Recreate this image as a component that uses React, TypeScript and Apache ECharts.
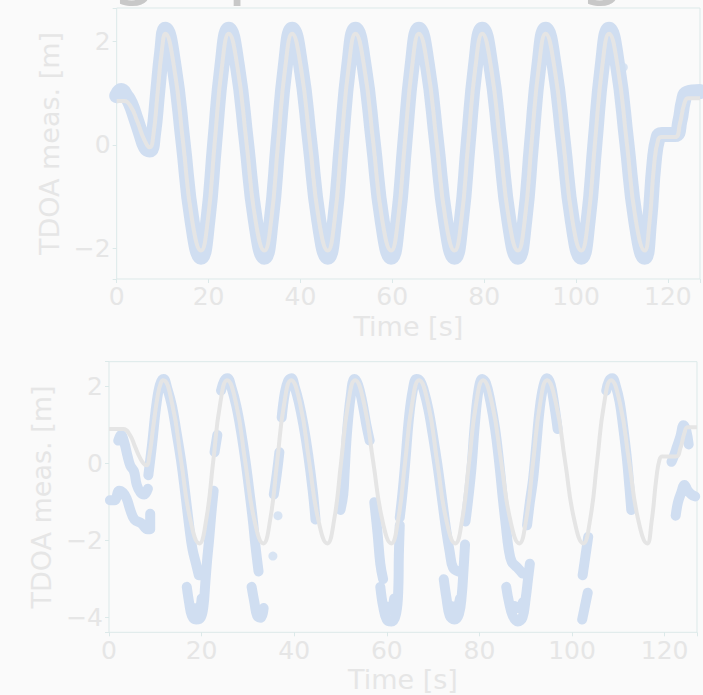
import React, { useEffect, useRef } from "react";
import * as echarts from "echarts";

// ---------- data ----------
const titleText = "Range processing";
const xAxisName = "Time [s]";
const yAxisName = "TDOA meas. [m]";

// top panel: ground-truth TDOA (grey) [t, m]
const refTop: [number, number][] = [
  [0, 0.85], [1.5, 0.85], [3.0, 0.75], [4.5, 0.45], [6.0, 0.1], [7.2, -0.05], [8.0, 0.2], [8.9, 1.0], [9.8, 1.8],
  [10.6, 2.15], [12.5, 1.5], [14.45, 0.05], [16.4, -1.45], [18.35, -2.05], [19.85, -1.45], [21.35, 0.05], [22.9, 1.5],
  [24.4, 2.15], [26.3, 1.5], [28.25, 0.05], [30.2, -1.45], [32.15, -2.05], [33.65, -1.45], [35.15, 0.05], [36.7, 1.5],
  [38.2, 2.15], [40.1, 1.5], [42.05, 0.05], [44.0, -1.45], [45.95, -2.05], [47.45, -1.45], [48.95, 0.05], [50.5, 1.5],
  [52.0, 2.15], [53.9, 1.5], [55.85, 0.05], [57.8, -1.45], [59.75, -2.05], [61.25, -1.45], [62.75, 0.05], [64.3, 1.5],
  [65.8, 2.15], [67.7, 1.5], [69.65, 0.05], [71.6, -1.45], [73.55, -2.05], [75.05, -1.45], [76.55, 0.05], [78.1, 1.5],
  [79.6, 2.15], [81.5, 1.5], [83.45, 0.05], [85.4, -1.45], [87.35, -2.05], [88.85, -1.45], [90.35, 0.05], [91.9, 1.5],
  [93.4, 2.15], [95.3, 1.5], [97.25, 0.05], [99.2, -1.45], [101.15, -2.05], [102.65, -1.45], [104.15, 0.05], [105.7, 1.5],
  [107.2, 2.15], [109.1, 1.5], [111.05, 0.05], [113.0, -1.45], [114.95, -2.05],
  [116.0, -1.5], [117.0, -0.4], [117.9, 0.1], [118.7, 0.15], [121.6, 0.15], [122.6, 0.4], [123.6, 0.8], [124.4, 0.9], [127, 0.9],
];

// top panel: measured TDOA (blue band centre) [t, m]
const measTop: [number, number][] = [
  [0, 0.95], [1.0, 1.05], [2.0, 0.95], [3.0, 0.8], [4.2, 0.5], [5.3, 0.2], [6.3, -0.05], [7.2, -0.1], [8.0, 0.2], [8.9, 1.0], [9.8, 1.8],
  [10.6, 2.24], [12.5, 1.52], [14.45, 0.05], [16.4, -1.47], [18.35, -2.18], [19.85, -1.47], [21.35, 0.05], [22.9, 1.52],
  [24.4, 2.24], [26.3, 1.52], [28.25, 0.05], [30.2, -1.47], [32.15, -2.18], [33.65, -1.47], [35.15, 0.05], [36.7, 1.52],
  [38.2, 2.24], [40.1, 1.52], [42.05, 0.05], [44.0, -1.47], [45.95, -2.18], [47.45, -1.47], [48.95, 0.05], [50.5, 1.52],
  [52.0, 2.24], [53.9, 1.52], [55.85, 0.05], [57.8, -1.47], [59.75, -2.18], [61.25, -1.47], [62.75, 0.05], [64.3, 1.52],
  [65.8, 2.24], [67.7, 1.52], [69.65, 0.05], [71.6, -1.47], [73.55, -2.18], [75.05, -1.47], [76.55, 0.05], [78.1, 1.52],
  [79.6, 2.24], [81.5, 1.52], [83.45, 0.05], [85.4, -1.47], [87.35, -2.18], [88.85, -1.47], [90.35, 0.05], [91.9, 1.52],
  [93.4, 2.24], [95.3, 1.52], [97.25, 0.05], [99.2, -1.47], [101.15, -2.18], [102.65, -1.47], [104.15, 0.05], [105.7, 1.52],
  [107.2, 2.24], [109.1, 1.52], [111.05, 0.05], [113.0, -1.47], [114.95, -2.18],
  [116.0, -1.5], [117.0, -0.35], [117.9, 0.15], [118.7, 0.2], [121.6, 0.2], [122.6, 0.45], [123.4, 0.85], [124.2, 1.0], [127, 1.03],
];
const measTopDots: [number, number][] = [[110.3, 1.5]];

// bottom panel: ground-truth TDOA (grey)
const refBot: [number, number][] = [
  [0, 0.9], [3.1, 0.9], [4.5, 0.75], [5.6, 0.45], [6.7, 0.15], [7.5, 0.0], [8.1, -0.04], [8.7, 0.2], [9.6, 1.0], [10.5, 1.75], [11.2, 2.1],
  [11.7, 2.17], [13.65, 1.55], [15.6, 0.05], [17.55, -1.45], [19.5, -2.07], [21.0, -1.45], [22.5, 0.05], [24.0, 1.55],
  [25.52, 2.17], [27.47, 1.55], [29.42, 0.05], [31.37, -1.45], [33.32, -2.07], [34.82, -1.45], [36.32, 0.05], [37.82, 1.55],
  [39.34, 2.17], [41.29, 1.55], [43.24, 0.05], [45.19, -1.45], [47.14, -2.07], [48.64, -1.45], [50.14, 0.05], [51.64, 1.55],
  [53.16, 2.17], [55.11, 1.55], [57.06, 0.05], [59.01, -1.45], [60.96, -2.07], [62.46, -1.45], [63.96, 0.05], [65.46, 1.55],
  [66.98, 2.17], [68.93, 1.55], [70.88, 0.05], [72.83, -1.45], [74.78, -2.07], [76.28, -1.45], [77.78, 0.05], [79.28, 1.55],
  [80.8, 2.17], [82.75, 1.55], [84.7, 0.05], [86.65, -1.45], [88.6, -2.07], [90.1, -1.45], [91.6, 0.05], [93.1, 1.55],
  [94.62, 2.17], [96.57, 1.55], [98.52, 0.05], [100.47, -1.45], [102.42, -2.07], [103.92, -1.45], [105.42, 0.05], [106.92, 1.55],
  [108.44, 2.17], [110.39, 1.55], [112.34, 0.05], [114.29, -1.45], [116.24, -2.07],
  [117.2, -1.5], [118.2, -0.4], [118.9, 0.1], [119.5, 0.19], [122.5, 0.19], [123.4, 0.4], [124.3, 0.8], [125.0, 0.95], [127, 0.95],
];

// bottom panel: measured TDOA, runs of points (gaps between runs)
const measBotRuns: [number, number][][] = [
  [[0.2, -0.95], [1.2, -0.95], [2.2, -0.7], [3.0, -0.75], [3.8, -0.9], [4.6, -1.2], [5.5, -1.45], [7.0, -1.55], [8.3, -1.7], [8.9, -1.7], [8.9, -1.3]],
  [[2.0, 0.6], [2.6, 0.75], [3.3, 0.55], [4.0, 0.2], [4.6, -0.05], [5.4, -0.2], [6.0, -0.55], [6.8, -0.75], [7.6, -0.8], [8.4, -0.65]],
  [[8.5, -0.3], [9.3, 0.5], [10.2, 1.5], [11.0, 2.05], [11.8, 2.2], [12.6, 1.95], [13.6, 1.5], [14.6, 0.8], [15.6, 0.05], [16.5, -0.8], [17.3, -1.6], [18.0, -2.2], [18.8, -2.6], [19.4, -2.9]],
  [[16.8, -3.2], [17.3, -3.6], [17.9, -3.95], [18.8, -4.05], [19.8, -4.0], [20.4, -3.7], [20.8, -3.1], [21.2, -2.5], [21.6, -2.0], [22.1, -1.3], [22.6, -0.7]],
  [[18.4, -3.75], [19.4, -3.8], [20.0, -3.5]],
  [[22.8, 0.3], [23.4, 0.75]],
  [[24.2, 1.9], [24.9, 2.15], [25.6, 2.22], [26.4, 2.0], [27.5, 1.5], [28.5, 0.85], [29.5, 0.05], [30.4, -0.8], [31.1, -1.5], [31.6, -2.1], [32.3, -2.8]],
  [[30.8, -3.2], [31.4, -3.6], [32.0, -3.95], [32.8, -4.0], [33.4, -3.75]],
  [[35.6, -0.8], [36.2, -0.3], [36.8, 0.3]],
  [[37.3, 1.2], [38.0, 1.85], [38.7, 2.15], [39.4, 2.22], [40.1, 2.0], [41.0, 1.6], [42.0, 1.0], [43.0, 0.25], [44.0, -0.7], [44.6, -1.45]],
  [[50.0, -1.2], [50.6, -0.8], [50.9, -0.2], [51.4, 0.8], [52.2, 1.75], [53.0, 2.2], [53.8, 2.05], [54.7, 1.6], [55.6, 1.0], [56.3, 0.6]],
  [[57.3, -1.0], [58.0, -1.8], [58.6, -2.6], [59.2, -3.0]],
  [[58.6, -3.2], [59.2, -3.7], [60.0, -4.05], [61.0, -4.1], [62.0, -3.9], [62.5, -3.2], [62.6, -2.4], [62.8, -1.6]],
  [[59.8, -3.7], [60.8, -3.8], [61.6, -3.5]],
  [[62.8, -1.4], [63.4, -0.75], [64.0, 0.05], [64.8, 1.2], [65.6, 1.9], [66.4, 2.2], [67.2, 2.15], [68.0, 1.9], [69.0, 1.4], [70.0, 0.7], [70.9, 0.0], [71.8, -0.8], [72.8, -1.7], [73.6, -2.3], [74.3, -2.7], [75.5, -2.8]],
  [[72.3, -3.0], [72.9, -3.5], [73.6, -3.95], [74.6, -4.05], [75.6, -3.9], [76.2, -3.4], [76.6, -2.7], [76.9, -2.1]],
  [[74.0, -3.7], [75.0, -3.75], [75.8, -3.5]],
  [[77.0, -1.5], [77.6, -0.9], [78.3, -0.1], [79.0, 1.0], [79.8, 1.9], [80.6, 2.2], [81.4, 2.1], [82.4, 1.6], [83.4, 0.9], [84.3, 0.0], [85.1, -0.95], [85.7, -1.6], [86.3, -2.2], [87.0, -2.55], [88.2, -2.7], [89.3, -2.85]],
  [[85.8, -3.2], [86.4, -3.6], [87.2, -3.95], [88.3, -4.1], [89.3, -4.0], [90.0, -3.5], [90.5, -3.0], [90.9, -2.6]],
  [[87.6, -3.7], [88.6, -3.75], [89.4, -3.6]],
  [[90.3, -1.6], [90.9, -1.0], [91.6, -0.4], [92.3, 0.5], [93.0, 1.4], [93.8, 2.0], [94.6, 2.22], [95.4, 2.05], [96.2, 1.5], [96.9, 0.9]],
  [[102.3, -2.9], [102.9, -2.4], [103.5, -1.9]],
  [[102.2, -4.05], [102.8, -3.7], [103.4, -3.35]],
  [[107.4, 1.9], [108.0, 2.15], [108.7, 2.22], [109.5, 2.0], [110.3, 1.6], [111.0, 1.0], [111.8, 0.2], [112.4, -0.6], [112.8, -1.2]],
  [[121.5, 0.05], [122.0, 0.2], [122.7, 0.45], [123.4, 0.7], [124.1, 1.0], [124.7, 0.85], [125.2, 0.5]],
  [[122.4, -1.35], [122.9, -1.0], [123.6, -0.75], [124.3, -0.55], [125.0, -0.7], [125.8, -0.8], [126.6, -0.85]],
];
const measBotDots: [number, number][] = [[35.4, -2.4], [36.5, -1.35]];

// axis extents
const xRange = [0, 127];
const yRangeTop = [-2.6, 2.65];
const yRangeBot = [-4.38, 2.65];

// ---------- styles ----------
const BG = "#fafafa";
const TXT = "#e6e6e6";
const FRAME = "#dce9e9";
const BLUE = "#d0def1";
const GREY = "#e5e5e5";
const FONT = "DejaVu Sans";

function joinRuns(runs: [number, number][][]) {
  const out: (number | null)[][] = [];
  runs.forEach((r, i) => {
    if (i > 0) out.push([r[0][0], null]);
    r.forEach((p) => out.push(p));
  });
  return out;
}

const fmt = (step: number) => (v: number) =>
  Math.abs(v / step - Math.round(v / step)) < 1e-9 ? String(Math.round(v)).replace("-", "\u2212") : "";

export default function App() {
  const ref = useRef<HTMLDivElement>(null);
  useEffect(() => {
    if (!ref.current) return;
    const chart = echarts.init(ref.current, undefined, { renderer: "svg" });

    const xAxis = (gridIndex: number, nameGap: number, margin: number) => ({
      type: "value",
      gridIndex,
      min: xRange[0],
      max: xRange[1],
      interval: 20,
      axisLine: { show: false, onZero: false },
      axisTick: { show: true, length: 4, lineStyle: { color: FRAME } },
      splitLine: { show: false },
      axisLabel: { color: TXT, fontSize: 25, lineHeight: 20, fontFamily: FONT, margin, formatter: fmt(20) },
      name: xAxisName,
      nameLocation: "middle",
      nameGap,
      nameTextStyle: { color: TXT, fontSize: 27, lineHeight: 22, fontFamily: FONT },
    });
    const yAxis = (gridIndex: number, range: number[], nameGap: number) => ({
      type: "value",
      gridIndex,
      min: range[0],
      max: range[1],
      minInterval: 2,
      maxInterval: 2,
      axisLine: { show: false, onZero: false },
      axisTick: { show: true, length: 4, lineStyle: { color: FRAME } },
      splitLine: { show: false },
      axisLabel: { color: TXT, fontSize: 25, lineHeight: 20, fontFamily: FONT, margin: 6, formatter: fmt(2) },
      name: yAxisName,
      nameLocation: "middle",
      nameGap,
      nameTextStyle: { color: TXT, fontSize: 27, lineHeight: 22, fontFamily: FONT },
    });

    chart.setOption({
      animation: false,
      backgroundColor: BG,
      textStyle: { fontFamily: FONT },
      graphic: [
        {
          type: "text",
          x: -31,
          y: -36,
          silent: true,
          style: { text: titleText, font: `74px "${FONT}"`, fill: "#c8c8c8", align: "left", verticalAlign: "middle" },
        },
      ],
      grid: [
        { left: 116.7, top: 8, width: 587.4, height: 271, show: true, borderColor: FRAME, borderWidth: 1, backgroundColor: "transparent" },
        { left: 109, top: 361.7, width: 588, height: 270.6, show: true, borderColor: FRAME, borderWidth: 1, backgroundColor: "transparent" },
      ],
      xAxis: [xAxis(0, 36, 7), xAxis(1, 36, 8)],
      yAxis: [yAxis(0, yRangeTop, 46), yAxis(1, yRangeBot, 44)],
      series: [
        {
          name: "TDOA meas.",
          type: "line",
          xAxisIndex: 0,
          yAxisIndex: 0,
          data: measTop,
          smooth: 0.5,
          showSymbol: false,
          symbol: "none",
          lineStyle: { color: BLUE, width: 15, cap: "round", join: "round" },
          z: 2,
        },
        {
          name: "TDOA meas. dots",
          type: "scatter",
          xAxisIndex: 0,
          yAxisIndex: 0,
          data: measTopDots,
          symbolSize: 9,
          itemStyle: { color: BLUE },
          z: 2,
        },
        {
          name: "TDOA true",
          type: "line",
          xAxisIndex: 0,
          yAxisIndex: 0,
          data: refTop,
          smooth: 0.5,
          showSymbol: false,
          symbol: "none",
          lineStyle: { color: GREY, width: 4 },
          z: 3,
        },
        {
          name: "TDOA meas. bottom",
          type: "line",
          xAxisIndex: 1,
          yAxisIndex: 1,
          data: joinRuns(measBotRuns),
          connectNulls: false,
          smooth: 0.4,
          showSymbol: false,
          symbol: "none",
          lineStyle: { color: BLUE, width: 10, cap: "round", join: "round" },
          z: 2,
        },
        {
          name: "TDOA meas. bottom dots",
          type: "scatter",
          xAxisIndex: 1,
          yAxisIndex: 1,
          data: measBotDots,
          symbolSize: 9,
          itemStyle: { color: BLUE },
          z: 2,
        },
        {
          name: "TDOA true bottom",
          type: "line",
          xAxisIndex: 1,
          yAxisIndex: 1,
          data: refBot,
          smooth: 0.5,
          showSymbol: false,
          symbol: "none",
          lineStyle: { color: GREY, width: 4 },
          z: 3,
        },
      ],
    });
    return () => chart.dispose();
  }, []);

  return (
    <div
      ref={ref}
      style={{ position: "fixed", left: 0, top: 0, width: 703, height: 695, background: BG }}
    />
  );
}
